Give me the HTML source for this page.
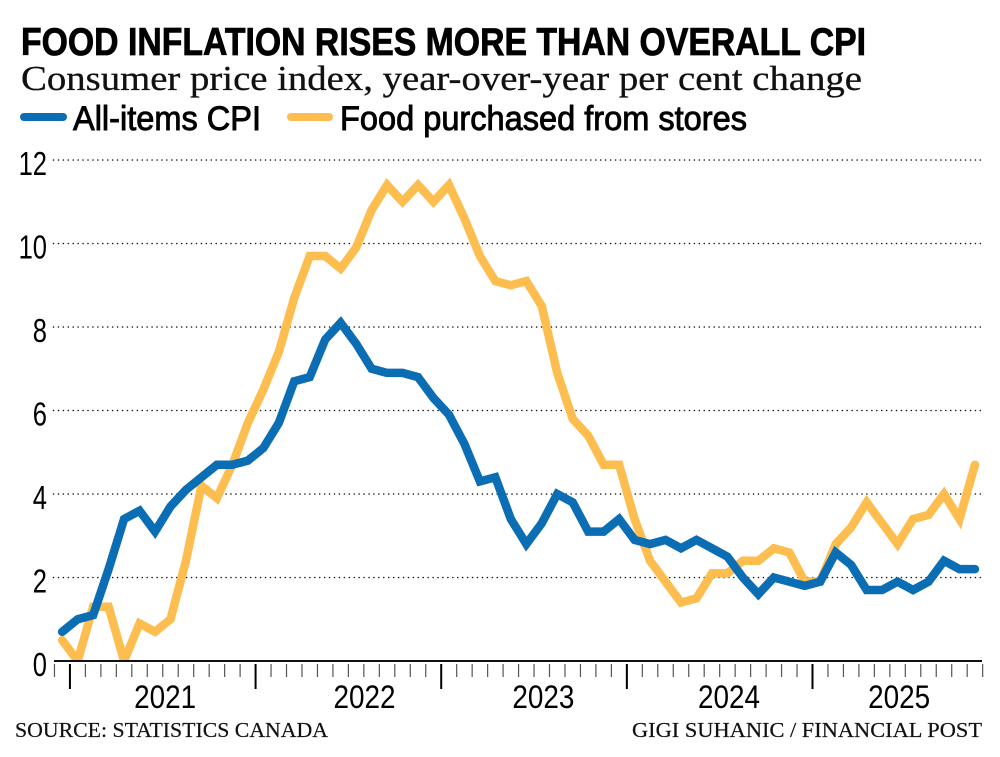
<!DOCTYPE html>
<html lang="en">
<head>
<meta charset="utf-8">
<title>Food inflation rises more than overall CPI</title>
<style>
html,body{margin:0;padding:0;background:#fff;width:1000px;height:757px;overflow:hidden}
svg{display:block}
.cond{font-family:"Liberation Sans Narrow","Liberation Sans",sans-serif}
.serif{font-family:"Liberation Serif",serif}
</style>
</head>
<body>
<svg id="chart" xmlns="http://www.w3.org/2000/svg" width="1000" height="757" viewBox="0 0 1000 757">
  <rect x="0" y="0" width="1000" height="757" fill="#fff"/>
  <text class="cond" x="21" y="55" font-size="39" font-weight="700" fill="#000" stroke="#000" stroke-width="0.8" textLength="845" lengthAdjust="spacingAndGlyphs">FOOD INFLATION RISES MORE THAN OVERALL CPI</text>
  <text class="serif" x="21" y="90" font-size="35" fill="#111" stroke="#111" stroke-width="0.3" textLength="841" lengthAdjust="spacingAndGlyphs">Consumer price index, year-over-year per cent change</text>
  <g>
    <line x1="24" x2="63" y1="117" y2="117" stroke="#0b6db3" stroke-width="8" stroke-linecap="round"/>
    <text class="cond" x="73" y="130" font-size="34" fill="#000" stroke="#000" stroke-width="0.9" textLength="188" lengthAdjust="spacingAndGlyphs">All-items CPI</text>
    <line x1="291" x2="329" y1="117" y2="117" stroke="#fdbd4f" stroke-width="8" stroke-linecap="round"/>
    <text class="cond" x="340" y="130" font-size="34" fill="#000" stroke="#000" stroke-width="0.9" textLength="407" lengthAdjust="spacingAndGlyphs">Food purchased from stores</text>
  </g>
  <g id="grid"></g>
  <g id="ylabels"></g>
  <defs>
    <clipPath id="plot-clip"><rect x="40" y="140" width="960" height="521"/></clipPath>
  </defs>
  <g id="series" clip-path="url(#plot-clip)"></g>
  <g id="xaxis"></g>
  <text class="serif" x="15" y="737" font-size="21" fill="#111" stroke="#111" stroke-width="0.2" textLength="313" lengthAdjust="spacingAndGlyphs">SOURCE: STATISTICS CANADA</text>
  <text class="serif" x="632" y="737" font-size="21" fill="#111" stroke="#111" stroke-width="0.2" textLength="350" lengthAdjust="spacingAndGlyphs">GIGI SUHANIC / FINANCIAL POST</text>
</svg>
<script>
const months = [
  'Dec20',
  'Jan21','Feb21','Mar21','Apr21','May21','Jun21','Jul21','Aug21','Sep21','Oct21','Nov21','Dec21',
  'Jan22','Feb22','Mar22','Apr22','May22','Jun22','Jul22','Aug22','Sep22','Oct22','Nov22','Dec22',
  'Jan23','Feb23','Mar23','Apr23','May23','Jun23','Jul23','Aug23','Sep23','Oct23','Nov23','Dec23',
  'Jan24','Feb24','Mar24','Apr24','May24','Jun24','Jul24','Aug24','Sep24','Oct24','Nov24','Dec24',
  'Jan25','Feb25','Mar25','Apr25','May25','Jun25','Jul25','Aug25','Sep25','Oct25','Nov25'
];
const allItemsCpi = [
  0.7,
  1.0,1.1,2.2,3.4,3.6,3.1,3.7,4.1,4.4,4.7,4.7,4.8,
  5.1,5.7,6.7,6.8,7.7,8.1,7.6,7.0,6.9,6.9,6.8,6.3,
  5.9,5.2,4.3,4.4,3.4,2.8,3.3,4.0,3.8,3.1,3.1,3.4,
  2.9,2.8,2.9,2.7,2.9,2.7,2.5,2.0,1.6,2.0,1.9,1.8,
  1.9,2.6,2.3,1.7,1.7,1.9,1.7,1.9,2.4,2.2,2.2
];
const foodPurchased = [
  0.5,
  0.0,1.3,1.3,0.0,0.9,0.7,1.0,2.4,4.2,3.9,4.7,5.7,
  6.5,7.4,8.7,9.7,9.7,9.4,9.9,10.8,11.4,11.0,11.4,11.0,
  11.4,10.6,9.7,9.1,9.0,9.1,8.5,6.9,5.8,5.4,4.7,4.7,
  3.4,2.4,1.9,1.4,1.5,2.1,2.1,2.4,2.4,2.7,2.6,1.9,
  1.9,2.8,3.2,3.8,3.3,2.8,3.4,3.5,4.0,3.4,4.7
];
const yTicks = [0, 2, 4, 6, 8, 10, 12];
const yearLabels = ['2021', '2022', '2023', '2024', '2025'];
const yearLabelMonths = [6.65, 19.54, 31.1, 43.1, 54.1];

const NS = 'http://www.w3.org/2000/svg';
const X0 = 62.2, STEP = 15.47, Y0 = 661, UNIT = 41.75;
function xScale(i) { return X0 + i * STEP; }
function yScale(v) { return Y0 - v * UNIT; }
function make(tag, attrs, parent) {
  const el = document.createElementNS(NS, tag);
  for (const k in attrs) el.setAttribute(k, attrs[k]);
  parent.appendChild(el);
  return el;
}

const grid = document.getElementById('grid');
const ylabels = document.getElementById('ylabels');
yTicks.forEach(function (t) {
  if (t > 0) {
    const g = make('line', {
      x1: 53.5, x2: 983, y1: yScale(t), y2: yScale(t),
      stroke: '#111', 'stroke-width': 1.6, 'stroke-dasharray': '0 4.93', 'stroke-linecap': 'round'
    }, grid);
    
    
  }
  const label = String(t);
  const l = make('text', {
    x: 47, y: yScale(t) + 15, 'text-anchor': 'end', 'font-size': 33, fill: '#000', class: 'cond',
    textLength: label.length * 14.2, lengthAdjust: 'spacingAndGlyphs'
  }, ylabels);
  
  
  l.textContent = label;
});

const series = document.getElementById('series');
function drawLine(values, color, name) {
  const d = values.map(function (v, i) {
    return (i ? 'L' : 'M') + xScale(i).toFixed(2) + ' ' + yScale(v).toFixed(2);
  }).join(' ');
  const p = make('path', {
    d: d, fill: 'none', stroke: color, 'stroke-width': 8.5,
    'stroke-linejoin': 'miter', 'stroke-miterlimit': 3, 'stroke-linecap': 'round'
  }, series);
  
  
}
drawLine(foodPurchased, '#fdbd4f', 'series-line-food-purchased');
drawLine(allItemsCpi, '#0b6db3', 'series-line-all-items-cpi');

const xaxis = document.getElementById('xaxis');
const axisLine = make('line', {
  x1: 54, x2: 982, y1: Y0, y2: Y0, stroke: '#111', 'stroke-width': 2
}, xaxis);



for (let i = 0; i <= months.length; i++) {
  const major = i % 12 === 1;
  const x = xScale(i) - STEP / 2;
  const tick = make('line', {
    x1: x, x2: x, y1: 664, y2: major ? 689 : 677,
    stroke: major ? '#000' : '#555', 'stroke-width': major ? 2 : 1.2
  }, xaxis);
  
  
}
yearLabels.forEach(function (y, i) {
  const t = make('text', {
    x: xScale(yearLabelMonths[i]), y: 708, 'text-anchor': 'middle',
    'font-size': 32, fill: '#000', class: 'cond',
    textLength: 62, lengthAdjust: 'spacingAndGlyphs'
  }, xaxis);
  
  
  t.textContent = y;
});
</script>
</body>
</html>
